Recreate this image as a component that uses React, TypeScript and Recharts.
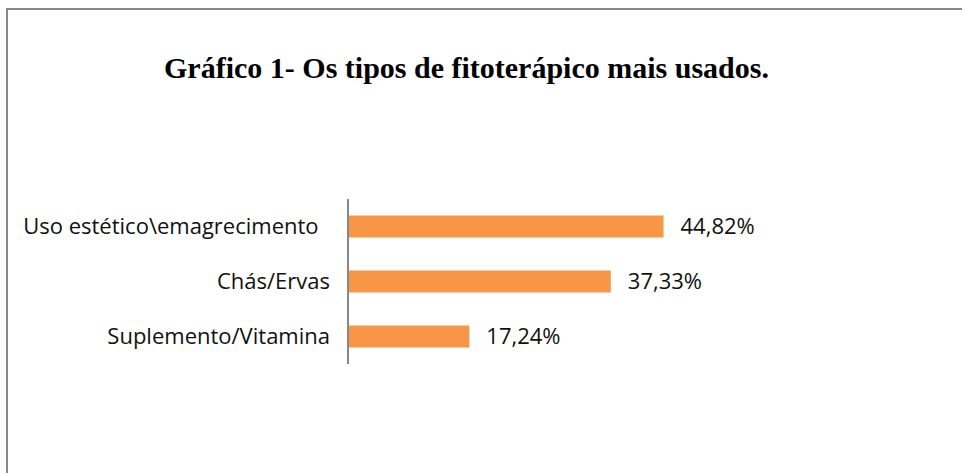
import React from "react";
import { BarChart, Bar, XAxis, YAxis, LabelList } from "recharts";

const categories = [
  "Uso estético\\emagrecimento\u00a0\u00a0",
  "Chás/Ervas",
  "Suplemento/Vitamina",
];
const values = [44.82, 37.33, 17.24];
const valueLabels = ["44,82%", "37,33%", "17,24%"];
const title = "Gráfico 1- Os tipos de fitoterápico mais usados.";

const data = categories.map((c, i) => ({ name: c, value: values[i], label: valueLabels[i] }));

const FONT = "'Open Sans', sans-serif";

export default function App() {
  return (
    <div style={{ position: "absolute", left: 0, top: 0, width: 962, height: 473, overflow: "hidden", background: "#fff" }}>
      <div
        style={{
          position: "absolute",
          left: 6,
          top: 8,
          width: 1100,
          height: 600,
          border: "2px solid #898989",
          boxSizing: "border-box",
        }}
      />
      <div
        style={{
          position: "absolute",
          left: 0,
          width: 933,
          top: 50,
          textAlign: "center",
          fontFamily: "'Liberation Serif', 'Times New Roman', serif",
          fontWeight: "bold",
          fontSize: 30,
          color: "#000",
          lineHeight: "36px",
        }}
      >
        {title}
      </div>
      <div style={{ position: "absolute", left: 0, top: 0 }}>
        <BarChart
          width={962}
          height={473}
          data={data}
          layout="vertical"
          margin={{ top: 199, bottom: 109, left: 0, right: 262 }}
          barCategoryGap="30%"
        >
          <XAxis type="number" domain={[0, 50]} hide />
          <YAxis
            type="category"
            dataKey="name"
            width={348}
            axisLine={{ stroke: "#888", strokeWidth: 2 }}
            tickLine={false}
            tickMargin={12}
            tick={{ fill: "#111", fontSize: 22, fontFamily: FONT }}
            interval={0}
          />
          <Bar dataKey="value" fill="#F79646" isAnimationActive={false}>
            <LabelList dataKey="label" position="right" offset={17} fill="#111" fontSize={22} fontFamily={FONT} />
          </Bar>
        </BarChart>
      </div>
    </div>
  );
}
